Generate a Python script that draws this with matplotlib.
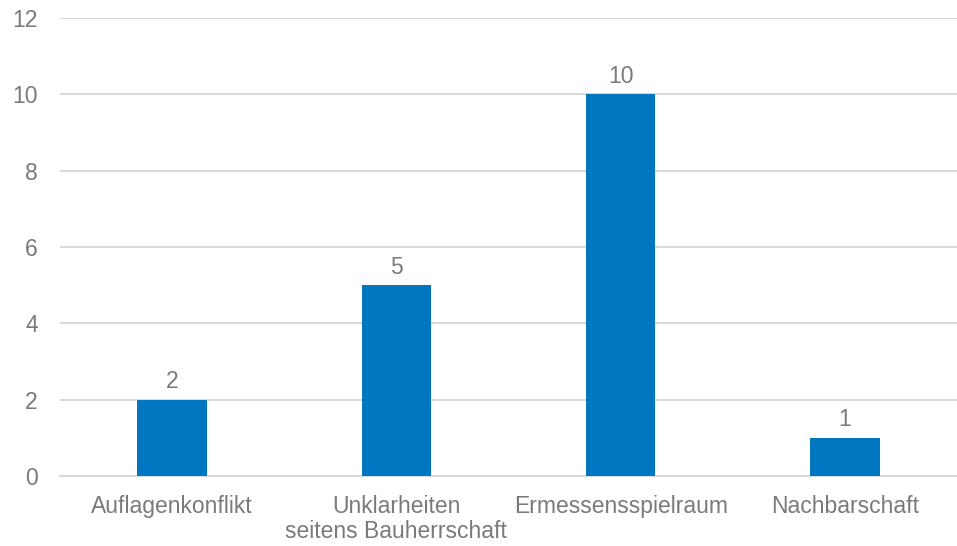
import matplotlib.pyplot as plt

# Daten
kategorien = ["Auflagenkonflikt", "Unklarheiten\nseitens Bauherrschaft", "Ermessensspielraum", "Nachbarschaft"]
werte = [2, 5, 10, 1]
y_ticks = [0, 2, 4, 6, 8, 10, 12]

plt.rcParams["font.family"] = ["Liberation Sans", "DejaVu Sans"]
text_farbe = "#7a7a7a"

fig = plt.figure(figsize=(9.57, 5.46), dpi=100)
ax = fig.add_axes([60 / 957, 1 - 476 / 546, 1 - 60 / 957, (476 - 18) / 546])

x = range(len(kategorien))
balken = ax.bar(x, werte, width=0.31, color="#0077C0", zorder=3)

# Werte ueber den Balken
for xi, w in zip(x, werte):
    ax.text(xi, w + 0.17, str(w), ha="center", va="bottom", fontsize=16.5, color=text_farbe)

ax.set_xlim(-0.5, len(kategorien) - 0.5)
ax.set_ylim(0, 12)
ax.set_yticks(y_ticks)
ax.set_xticks(list(x))
ax.set_xticklabels(kategorien, fontsize=16.5, color=text_farbe, linespacing=1.1)
ax.tick_params(axis="y", length=0, pad=16, labelsize=16.5, labelcolor=text_farbe)
ax.tick_params(axis="x", length=0, pad=14)

ax.grid(axis="y", color="#d9d9d9", linewidth=1.5, zorder=0)
for s in ["top", "right", "left"]:
    ax.spines[s].set_visible(False)
ax.spines["bottom"].set_color("#d9d9d9")
ax.spines["bottom"].set_linewidth(1.5)

fig.savefig("out.png", dpi=100)
